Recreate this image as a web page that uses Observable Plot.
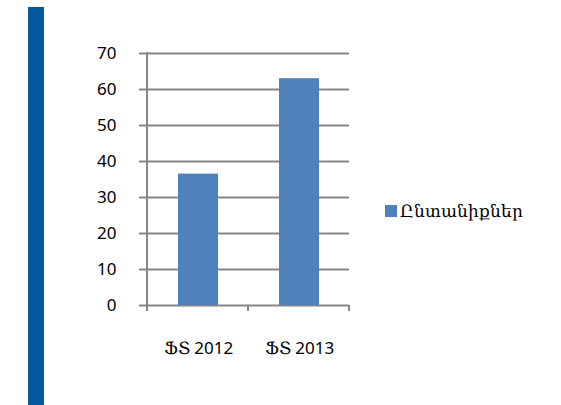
<!DOCTYPE html>
<html>
<head>
<meta charset="utf-8">
<script src="https://cdn.jsdelivr.net/npm/d3@7"></script>
<script src="https://cdn.jsdelivr.net/npm/@observablehq/plot@0.6"></script>
<style>
  @font-face { font-family: "ArmSerif"; src: local("DejaVu Serif"), local("DejaVuSerif"); unicode-range: U+0530-058F; }
  html, body { margin: 0; padding: 0; background: #fff; }
  #wrap { position: relative; width: 561px; height: 405px; overflow: hidden; font-family: "ArmSerif", "Noto Sans", "DejaVu Sans", sans-serif; }
  #stripe { position: absolute; left: 28px; top: 7px; width: 16px; height: 398px; background: #02599C; }
  #legend { position: absolute; left: 385px; top: 199px; display: flex; align-items: center; font-size: 17px; color: #000; white-space: nowrap; }
  #legend .sw { width: 12px; height: 12px; background: #4F81BD; margin-right: 3px; }
</style>
</head>
<body>
<div id="wrap">
  <div id="stripe"></div>
  <div id="chart"></div>
  <div id="legend"><span class="sw"></span><span id="legendText"></span></div>
</div>
<script>
const categories = ["ՖՏ 2012", "ՖՏ 2013"];
const seriesName = "Ընտանիքներ";
const values = [36.5, 63];
const yTicks = [0, 10, 20, 30, 40, 50, 60, 70];

const data = categories.map((c, i) => ({category: c, value: values[i]}));
const gridColor = "#868686";

document.getElementById("legendText").textContent = seriesName;

const frameLines = (index, scales, vals, dimensions) => {
  const {marginLeft, marginRight, width} = dimensions;
  const n = categories.length;
  const step = (width - marginLeft - marginRight) / n;
  const y0 = scales.y(0);
  const yTop = scales.y(d3.max(yTicks));
  const g = d3.create("svg:g").attr("stroke", gridColor).attr("stroke-width", 2);
  g.append("line").attr("x1", marginLeft).attr("x2", marginLeft).attr("y1", yTop - 1).attr("y2", y0 + 6);
  for (let i = 0; i <= n; i++) {
    const x = marginLeft + i * step;
    g.append("line").attr("x1", x).attr("x2", x).attr("y1", y0).attr("y2", y0 + 6);
  }
  return g.node();
};

const chart = Plot.plot({
  width: 561,
  height: 405,
  marginLeft: 147,
  marginRight: 212,
  marginTop: 53,
  marginBottom: 100,
  style: {fontFamily: "ArmSerif, 'Noto Sans', 'DejaVu Sans', sans-serif", fontSize: "17px", color: "#000", background: "transparent"},
  x: {domain: categories, paddingInner: 0.604, paddingOuter: 0.302},
  y: {domain: [0, 70]},
  marks: [
    Plot.gridY(yTicks, {stroke: gridColor, strokeOpacity: 1, strokeWidth: 2}),
    Plot.axisY(yTicks, {tickSize: 8, tickPadding: 23, stroke: gridColor, strokeWidth: 2, label: null, fill: "#000", fontSize: 17}),
    Plot.barY(data, {x: "category", y: "value", fill: "#4F81BD"}),
    frameLines,
    Plot.axisX({tickSize: 0, tickPadding: 36, label: null, fill: "#000", fontSize: 17})
  ]
});
document.getElementById("chart").appendChild(chart);
</script>
</body>
</html>
